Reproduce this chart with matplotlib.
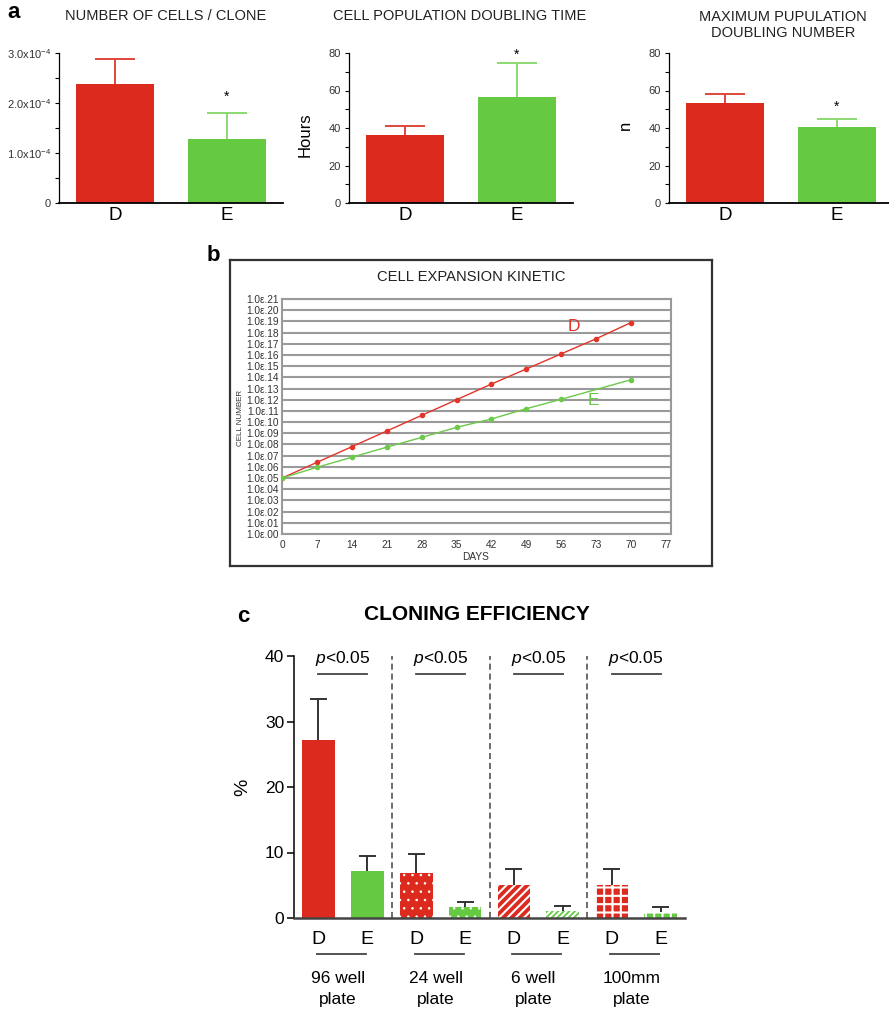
import numpy as np
import matplotlib
matplotlib.use("Agg")
import matplotlib.pyplot as plt

plt.rcParams['font.family'] = ['Liberation Sans', 'DejaVu Sans']
plt.rcParams['mathtext.fontset'] = 'custom'
plt.rcParams['mathtext.rm'] = 'Liberation Sans'
plt.rcParams['mathtext.it'] = 'Liberation Sans:italic'
plt.rcParams['hatch.linewidth'] = 1.5

W, H = 889, 1014
RED = '#dc2a1f'
GREEN = '#66c942'
RED_ERR = '#e0463b'
GREEN_ERR = '#8cd972'

# ---- panel a data
groups = ['D', 'E']
cells_mean = [2.38, 1.28]      # x10^-4
cells_err = [0.50, 0.53]
dbl_time_mean = [36.5, 56.7]   # hours
dbl_time_err = [4.5, 17.8]
max_dbl_mean = [53.4, 40.7]    # n
max_dbl_err = [4.6, 4.0]

# ---- panel b data
days = [0, 7, 14, 21, 28, 35, 42, 49, 56, 63, 70]
day_labels = ['0', '7', '14', '21', '28', '35', '42', '49', '56', '73', '70', '77']
kin_D = [5.0, 6.4, 7.8, 9.2, 10.6, 12.0, 13.4, 14.75, 16.1, 17.45, 18.9]
days_E = [0, 7, 14, 21, 28, 35, 42, 49, 56, 70]
kin_E = [5.0, 5.96, 6.86, 7.76, 8.63, 9.53, 10.28, 11.2, 12.04, 13.79]

# ---- panel c data
plates = ['96 well\nplate', '24 well\nplate', '6 well\nplate', '100mm\nplate']
clon_D = [27.2, 6.9, 5.0, 5.0]
clon_D_err = [6.2, 2.8, 2.5, 2.5]
clon_E = [7.2, 1.7, 1.1, 0.9]
clon_E_err = [2.2, 0.8, 0.7, 0.8]
hatches = [None, '..', '////', '++']
hatches_E = [None, '..', '//////', '++']
hatch_lw = [1.5, 0.6, 1.5, 1.5]


def px_axes(l, t, r, b, **kw):
    return fig.add_axes([l / W, 1 - b / H, (r - l) / W, (b - t) / H], **kw)


def ftext(x, y, s, **kw):
    kw.setdefault('ha', 'center')
    kw.setdefault('va', 'center')
    fig.text(x / W, 1 - y / H, s, **kw)


def upper_err(ax, x, m, e, halfw, color, lw):
    # only the upper half of the error bar, like the original
    ax.vlines(x, m, m + e, colors=color, lw=lw, zorder=1)
    ax.hlines(m + e, x - halfw, x + halfw, colors=color, lw=lw, zorder=1)


fig = plt.figure(figsize=(W / 100, H / 100), dpi=100)

# ================= panel a
def bar_panel(ax, means, errs, ymax, step, labels, star_y):
    x = np.arange(2)
    ax.bar(x, means, width=0.69, color=[RED, GREEN], zorder=2)
    for xi, m, e, c in zip(x, means, errs, [RED_ERR, GREEN_ERR]):
        upper_err(ax, xi, m, e, 0.175, c, 1.4)
    ax.set_xlim(-0.5, 1.5)
    ax.set_ylim(0, ymax)
    ax.set_yticks(np.arange(0, ymax + step / 2, step))
    ax.set_yticks(np.arange(0, ymax, step / 2), minor=True)
    ax.set_yticklabels(labels, fontsize=8, color='#333333')
    ax.set_xticks(x)
    ax.set_xticklabels(groups, fontsize=13.5)
    ax.tick_params(axis='x', length=0, pad=3)
    ax.tick_params(axis='y', which='both', width=0.8, length=3, pad=3)
    for s in ['top', 'right']:
        ax.spines[s].set_visible(False)
    ax.spines['left'].set_linewidth(0.9)
    ax.spines['bottom'].set_linewidth(1.3)
    ax.text(1, star_y, '*', ha='center', va='center', fontsize=10)


ax1 = px_axes(59, 53, 283, 203)
bar_panel(ax1, cells_mean, cells_err, 3.0, 1.0,
          ['0', r'1.0x10$^{-4}$', r'2.0x10$^{-4}$', r'3.0x10$^{-4}$'], 2.12)
ax2 = px_axes(349, 53, 573, 203)
bar_panel(ax2, dbl_time_mean, dbl_time_err, 80, 20,
          ['0', '20', '40', '60', '80'], 79)
ax3 = px_axes(669, 53, 893, 203)
bar_panel(ax3, max_dbl_mean, max_dbl_err, 80, 20,
          ['0', '20', '40', '60', '80'], 51.5)

ftext(14, 13, 'a', fontsize=16, fontweight='bold')
ftext(166, 16, 'NUMBER OF CELLS / CLONE', fontsize=10.5, color='#222222')
ftext(460, 16, 'CELL POPULATION DOUBLING TIME', fontsize=10.5, color='#222222')
ftext(783, 25, 'MAXIMUM PUPULATION\nDOUBLING NUMBER', fontsize=10.5,
      color='#222222', linespacing=1.15)
ftext(305, 135, 'Hours', fontsize=12, rotation=90)
ftext(625, 125, 'n', fontsize=12, rotation=90)

# ================= panel b
frame = px_axes(230, 260, 712, 566)
frame.set_xticks([])
frame.set_yticks([])
for s in frame.spines.values():
    s.set_linewidth(1.6)
    s.set_color('#333333')

axb = px_axes(282, 299, 671, 534)
for lvl in range(22):
    axb.axhline(lvl, color='#9a9a9a', lw=1.5, zorder=1)
axb.plot(days, kin_D, color='#e3342a', lw=1.0, marker='o', ms=3, zorder=3)
axb.plot(days_E, kin_E, color='#6cc94a', lw=1.0, marker='o', ms=3, zorder=3)
axb.set_xlim(0, 78)
axb.set_ylim(0, 21)
axb.set_xticks(np.arange(0, 78, 7))
axb.set_xticklabels(day_labels, fontsize=7.3, color='#333333')
axb.set_yticks(range(22))
axb.set_yticklabels(['1.0\u03b5.%02d' % i for i in range(22)], fontsize=7.3,
                    color='#333333')
axb.tick_params(length=0, pad=2)
axb.tick_params(axis='x', pad=4)
for s in axb.spines.values():
    s.set_color('#9a9a9a')
    s.set_linewidth(1.5)
axb.text(58.5, 18.5, 'D', color='#e3342a', fontsize=12.5, ha='center', va='center')
axb.text(62.5, 11.9, 'E', color='#6cc94a', fontsize=12.5, ha='center', va='center')

ftext(213, 255, 'b', fontsize=16, fontweight='bold')
ftext(471, 277, 'CELL EXPANSION KINETIC', fontsize=10.6, color='#222222')
ftext(241, 418, 'CELL NUMBER', fontsize=5.8, rotation=90, color='#333333')
ftext(476, 557, 'DAYS', fontsize=7.3, color='#333333')

# ================= panel c
axc = px_axes(294, 656, 685, 918)
xD = np.arange(4) * 2
xE = xD + 1
for i in range(4):
    if hatches[i] is None:
        axc.bar(xD[i], clon_D[i], width=0.67, color=RED, lw=0, zorder=2)
        axc.bar(xE[i], clon_E[i], width=0.67, color=GREEN, lw=0, zorder=2)
    else:
        with plt.rc_context({'hatch.linewidth': hatch_lw[i]}):
            bd = axc.bar(xD[i], clon_D[i], width=0.67, facecolor=RED,
                         edgecolor='white', hatch=hatches[i], lw=0, zorder=2)
            be = axc.bar(xE[i], clon_E[i], width=0.67, facecolor=GREEN,
                         edgecolor='white', hatch=hatches_E[i], lw=0, zorder=2)
        for p in list(bd) + list(be):
            if hasattr(p, 'set_hatch_linewidth'):
                p.set_hatch_linewidth(hatch_lw[i])
    upper_err(axc, xD[i], clon_D[i], clon_D_err[i], 0.175, '#333333', 1.4)
    upper_err(axc, xE[i], clon_E[i], clon_E_err[i], 0.175, '#333333', 1.4)
axc.vlines([1.5, 3.5, 5.5], 0, 40, colors='#444444', linestyles=(0, (4, 2.5)),
           lw=1.1, zorder=0)
axc.set_xlim(-0.5, 7.5)
axc.set_ylim(0, 40)
axc.set_yticks([0, 10, 20, 30, 40])
axc.tick_params(axis='y', labelsize=12.5, length=5, width=1.1, pad=2)
axc.set_xticks(np.arange(8))
axc.set_xticklabels(['D', 'E'] * 4, fontsize=14)
axc.tick_params(axis='x', length=0, pad=9)
for s in ['top', 'right']:
    axc.spines[s].set_visible(False)
axc.spines['left'].set_linewidth(1.1)
axc.spines['bottom'].set_linewidth(1.8)
axc.spines['bottom'].set_color('#444444')
axc.set_ylabel('%', fontsize=14, labelpad=10)

tr = axc.get_xaxis_transform()
for g in range(4):
    c = xD[g] + 0.5
    axc.text(c, 39.6, r'$\it{p}$<0.05', fontsize=12.5, ha='center', va='center',
             clip_on=False)
    axc.plot([xD[g], xE[g]], [37.2, 37.2], color='#444444', lw=1.3, clip_on=False)
    axc.plot([xD[g] - 0.03, xE[g] - 0.03], [-0.137, -0.137], color='#444444',
             lw=1.3, transform=tr, clip_on=False)
    axc.text(c - 0.1, -0.272, plates[g], fontsize=12.5, ha='center', va='center',
             transform=tr, linespacing=1.5)

ftext(243, 616, 'c', fontsize=16, fontweight='bold')
ftext(477, 615, 'CLONING EFFICIENCY', fontsize=15, fontweight='bold')

fig.savefig('out.png', dpi=100)
